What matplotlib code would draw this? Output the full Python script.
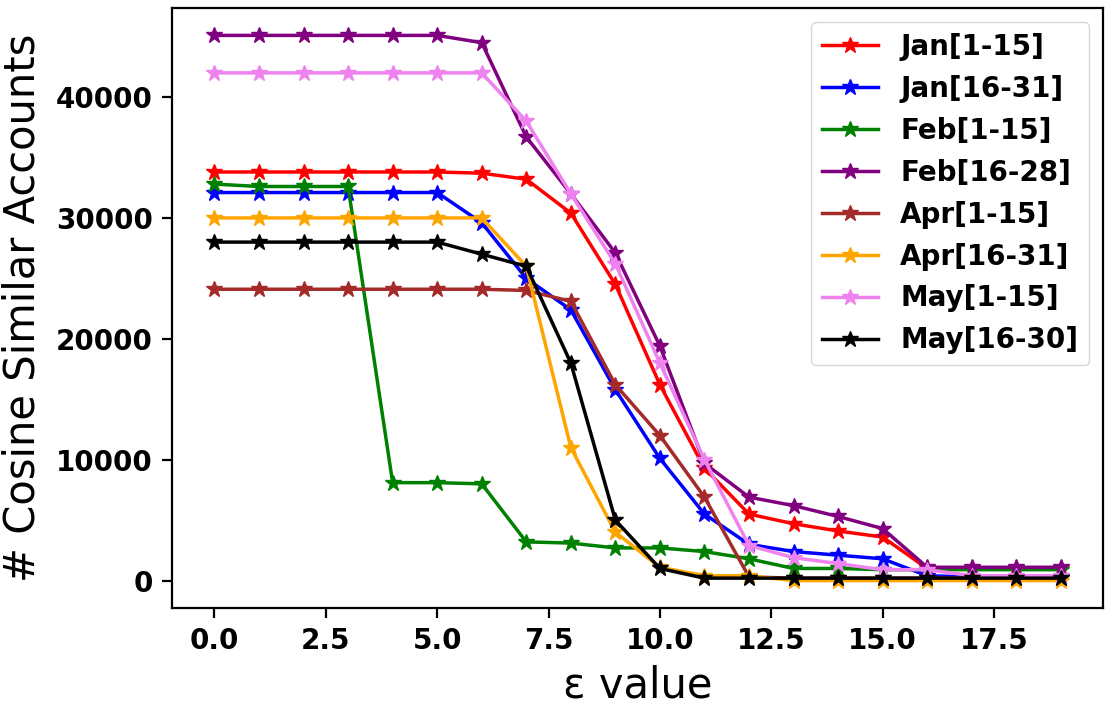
import matplotlib
matplotlib.use("Agg")
import matplotlib.pyplot as plt
import numpy as np

eps = list(range(20))
labels = ["Jan[1-15]", "Jan[16-31]", "Feb[1-15]", "Feb[16-28]",
          "Apr[1-15]", "Apr[16-31]", "May[1-15]", "May[16-30]"]
colors = ["red", "blue", "green", "purple", "brown", "orange", "violet", "black"]

jan1 = [33800]*6 + [33700, 33200, 30400, 24500, 16200, 9300, 5500, 4700, 4100, 3600, 1000, 1000, 1000, 1000]
jan2 = [32100]*6 + [29600, 25000, 22400, 15800, 10100, 5500, 3000, 2400, 2100, 1800, 400, 300, 300, 300]
feb1 = [32800, 32600, 32600, 32600, 8100, 8100, 8000, 3200, 3100, 2700, 2700, 2400, 1800, 1000, 1000, 900, 900, 900, 900, 900]
feb2 = [45100]*6 + [44500, 36700, 32000, 27100, 19400, 9700, 6900, 6200, 5300, 4300, 1100, 1100, 1100, 1100]
apr1 = [24100]*7 + [24000, 23100, 16200, 12000, 6900, 300, 200, 200, 200, 200, 200, 200, 200]
apr2 = [30000]*7 + [26000, 11000, 4000, 1100, 400, 400, 0, 0, 0, 0, 0, 0, 0]
may1 = [42000]*7 + [38000, 32000, 26200, 18000, 10000, 2900, 1900, 1400, 900, 900, 400, 400, 400]
may2 = [28000]*6 + [27000, 26000, 18000, 5000, 1000, 200, 200, 200, 200, 200, 200, 200, 200, 200]

series = [jan1, jan2, feb1, feb2, apr1, apr2, may1, may2]
xticks = [0, 2.5, 5, 7.5, 10, 12.5, 15, 17.5]
xticklabels = ["0.0", "2.5", "5.0", "7.5", "10.0", "12.5", "15.0", "17.5"]
yticks = [0, 10000, 20000, 30000, 40000]
yticklabels = ["0", "10000", "20000", "30000", "40000"]

fig = plt.figure(figsize=(11.07, 7.08), dpi=100)
ax = fig.add_axes([0.1555, 0.1415, 0.841, 0.847])
for lab, col, ys in zip(labels, colors, series):
    ax.plot(eps, ys, marker="*", color=col, label=lab, linewidth=2.5, markersize=12)

for s in ax.spines.values():
    s.set_linewidth(1.6)
ax.tick_params(axis="both", length=7, width=1.6, pad=7)
ax.set_xticks(xticks)
ax.set_yticks(yticks)
ax.set_xticklabels(xticklabels, fontweight="bold", fontsize=20)
ax.set_yticklabels(yticklabels, fontweight="bold", fontsize=20)
ax.set_xlabel("ε value", fontsize=30, labelpad=7)
ax.set_ylabel("# Cosine Similar Accounts", fontsize=30, labelpad=9)
ax.legend(loc="upper right", prop={"weight": "bold", "size": 20})
fig.savefig("out.png", dpi=100)
